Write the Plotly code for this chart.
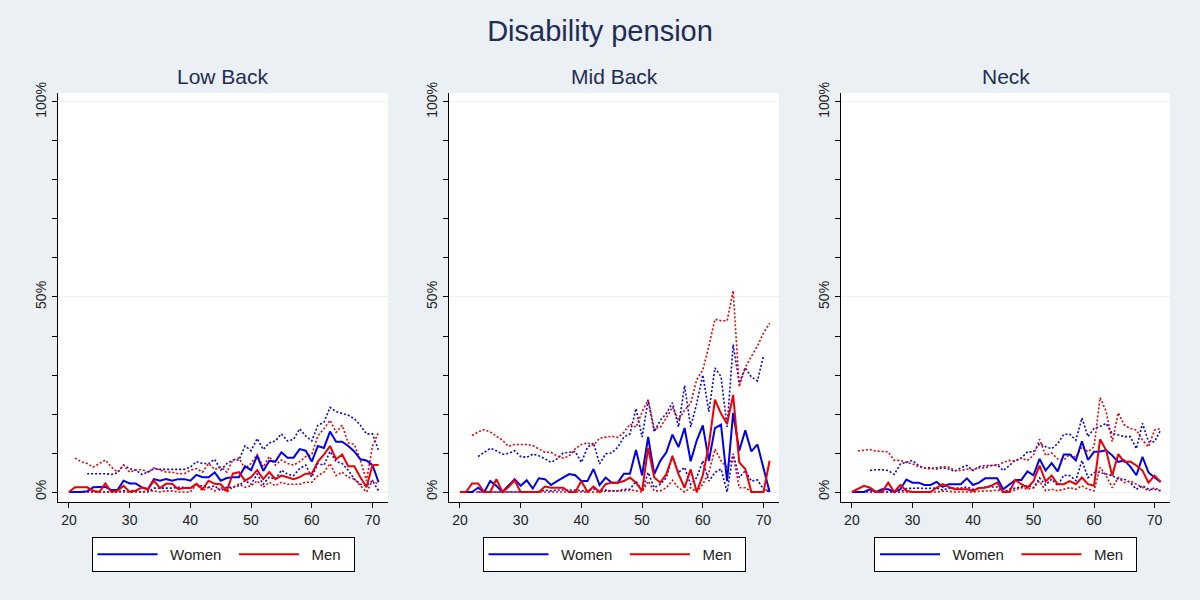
import plotly.graph_objects as go

N = None
ages = list(range(20, 72))

# ---------------- Low Back ----------------
low_women = [0, 0, 0, 0.2, 1.2, 1.3, 1.3, 0.5, 0.5, 2.9, 2.2, 2.2, 1.2, 0.7, 3.3, 2.9, 3.3, 2.9, 3.3, 3.3,
             2.9, 4.4, 3.8, 3.8, 5.0, 2.9, 3.6, 3.8, 3.8, 6.6, 5.6, 9.3, 5.4, 8.0, 7.8, 10.2, 8.8, 8.8, 11.0, 10.6,
             7.8, 11.8, 11.3, 15.5, 12.9, 12.9, 11.8, 10.4, 8.4, 8.1, 6.9, 2.5]
low_women_hi = [N, N, N, 4.7, 4.7, 4.7, 4.7, 4.5, 4.9, 6.9, 6.0, 5.6, 4.5, 5.1, 6.0, 5.8, 5.8, 5.8, 5.8, 5.8,
                6.4, 7.8, 7.3, 7.3, 8.4, 5.6, 7.3, 8.2, 8.2, 11.8, 10.6, 13.7, 10.9, 12.6, 13.1, 14.9, 13.1, 13.5, 16.2, 14.4,
                13.1, 17.1, 17.9, 21.7, 20.6, 20.1, 19.7, 18.8, 17.1, 14.9, 14.9, 10.6]
low_women_lo = [N, N, N, 0, 0, 0, 0, 0, 0, 0.3, 0.3, 0.3, 0, 0, 1.0, 1.0, 1.0, 1.0, 1.2, 1.2,
                1.0, 2.0, 1.5, 1.2, 1.6, 0.3, 1.2, 1.2, 1.6, 2.9, 2.0, 4.6, 2.0, 3.8, 3.3, 5.6, 4.6, 4.2, 6.0, 6.9,
                3.8, 7.3, 6.9, 10.4, 7.8, 7.3, 5.6, 3.3, 2.0, 1.6, 2.9, 0.3]
low_men = [0, 1.2, 1.2, 1.2, 0.3, 0, 2.2, 0, 0.3, 1.6, 0, 0.3, 1.2, 0.7, 2.9, 1.0, 2.1, 2.1, 0.7, 1.0,
           1.0, 2.1, 0.7, 2.9, 2.1, 2.0, 0.3, 4.7, 5.1, 2.9, 3.8, 5.6, 3.3, 5.1, 3.3, 4.2, 3.8, 3.3, 3.8, 4.7,
           4.7, 7.8, 9.6, 11.8, 8.4, 9.6, 6.6, 6.6, 3.8, 1.2, 6.9, 6.9]
low_men_hi = [N, 8.7, 7.8, 7.3, 6.4, 7.3, 8.2, 6.4, 5.1, 6.9, 5.1, 5.6, 5.8, 5.1, 6.2, 5.6, 5.1, 5.1, 4.7, 4.7,
              5.6, 6.0, 5.1, 7.3, 5.8, 6.4, 5.1, 8.2, 8.7, 6.0, 7.3, 9.6, 6.4, 9.1, 6.9, 8.2, 7.3, 6.9, 7.8, 9.1,
              9.6, 14.4, 16.2, 18.4, 15.3, 17.1, 12.6, 12.2, 8.2, 2.9, 11.8, 15.3]
low_men_lo = [N, 0, 0, 0, 0, 0, 0, 0, 0, 0, 0, 0, 0, 0.3, 0.3, 0, 0.3, 0.3, 0, 0,
              0, 2.0, 0.3, 1.2, 0.3, 1.2, 0, 1.2, 2.0, 1.2, 1.6, 2.9, 1.2, 2.5, 1.6, 2.5, 2.0, 2.0, 2.0, 2.5,
              2.5, 4.2, 5.1, 7.3, 4.2, 5.1, 3.8, 3.3, 1.6, 0, 2.9, 2.0]

# ---------------- Mid Back ----------------
mid_women = [0, 0, 0, 1.1, 0, 2.8, 1.6, 0, 1.6, 3.3, 1.6, 3.0, 0.9, 3.5, 3.3, 1.8, 2.8, 3.8, 4.6, 4.3,
             2.8, 2.8, 5.9, 1.8, 3.7, 2.4, 2.4, 4.7, 4.7, 10.8, 4.3, 14.1, 4.6, 8.0, 10.2, 14.7, 11.5, 16.4, 7.9, 13.2,
             17.1, 8.0, 16.4, 17.3, 2.8, 20.3, 10.6, 15.8, 10.4, 12.2, 6.3, 0]
mid_women_hi = [N, N, N, 9.1, 10.2, 11.2, 10.6, 9.7, 9.9, 10.6, 9.1, 8.9, 9.7, 9.3, 8.5, 7.6, 8.5, 10.0, 10.2, 10.4,
                7.6, 11.4, 12.6, 7.2, 9.8, 10.0, 11.5, 14.1, 14.9, 21.4, 14.1, 23.6, 15.4, 18.4, 20.1, 22.9, 16.7, 27.3, 16.7, 22.7,
                30.0, 20.6, 31.8, 29.6, 16.7, 37.8, 27.9, 31.8, 29.5, 28.5, 35.0, N]
mid_women_lo = [N, N, N, 0, 0, 0, 0, 0, 0, 0, 0, 0, 0, 0, 0.5, 0.3, 0.5, 0.5, 0.5, 0.5,
                0.3, 0.3, 0.8, 0.2, 0.5, 0.3, 0.3, 0.7, 0.7, 2.8, 0.3, 5.0, 1.1, 2.0, 3.7, 9.3, 5.0, 6.3, 2.0, 3.7,
                8.0, 2.8, 5.0, 5.9, 0, 9.8, 3.7, 5.5, 2.8, 3.1, 0.7, 0]
mid_men = [0, 0, 2.2, 2.2, 0, 0, 3.3, 0, 1.3, 3.0, 0, 0, 0, 0, 1.4, 1.1, 1.1, 1.1, 0, 0,
           2.8, 0, 1.4, 0, 2.0, 2.4, 2.4, 2.8, 3.7, 2.4, 0.3, 11.3, 3.7, 2.4, 4.6, 9.1, 4.6, 1.1, 5.8, 0,
           4.3, 12.0, 23.7, 20.1, 17.5, 24.9, 7.6, 5.9, 0, 0, 0, 8.0]
mid_men_hi = [N, N, 14.5, 15.4, 16.0, 15.4, 14.3, 13.3, 11.7, 12.2, 12.2, 12.2, 11.9, 11.1, 10.2, 10.2, 9.2, 8.7, 9.2, 11.1,
              12.2, 12.6, 12.0, 13.8, 14.0, 14.3, 14.0, 15.3, 17.4, 16.6, 20.5, 23.6, 16.2, 16.6, 19.0, 21.8, 18.4, 21.0, 22.7, 28.8,
              31.3, 37.4, 44.3, 43.9, 43.9, 51.6, 27.0, 32.0, 34.8, 37.4, 40.8, 43.3]
mid_men_lo = [N, N, 0, 0, 0, 0, 0, 0, 0, 0, 0, 0, 0, 0, 0, 0, 0, 0, 0, 0,
              0, 0, 0, 0, 0.2, 0.3, 0.3, 0.3, 0.5, 0.3, 0, 2.8, 0.3, 0.3, 1.1, 3.0, 1.1, 0, 1.1, 0,
              2.0, 5.0, 11.0, 8.0, 6.3, 9.3, 1.1, 1.1, 0, 0, 0, 1.0]

# ---------------- Neck ----------------
neck_women = [0, 0, 0, 0.7, 0, 0.7, 0.7, 0, 0.7, 3.2, 2.4, 2.4, 1.8, 1.8, 2.6, 1.3, 2.0, 2.0, 2.0, 3.5,
              1.8, 2.4, 3.5, 3.5, 3.5, 0.7, 2.0, 3.1, 3.1, 5.3, 4.3, 8.5, 5.5, 7.4, 5.3, 9.6, 9.6, 8.1, 13.0, 8.2,
              10.3, 10.4, 10.7, 9.4, 7.7, 8.1, 6.5, 4.3, 9.0, 5.0, 3.7, 2.6]
neck_women_hi = [N, N, N, 5.5, 5.7, 5.7, 5.5, 4.5, 7.2, 7.6, 8.1, 6.8, 6.2, 6.2, 5.9, 6.2, 5.9, 5.3, 6.2, 6.8,
                 5.5, 6.5, 6.8, 6.8, 7.0, 5.5, 6.8, 8.1, 8.7, 10.3, 10.3, 12.4, 11.6, 11.1, 12.4, 14.8, 14.8, 13.3, 19.0, 14.2,
                 16.3, 16.8, 17.6, 15.0, 14.6, 14.2, 14.2, 11.1, 17.6, 12.9, 12.9, 15.9]
neck_women_lo = [N, N, N, 0, 0, 0, 0, 0, 0, 0.9, 1.0, 1.0, 0.9, 0.9, 1.0, 0.5, 1.0, 1.0, 1.0, 1.3,
                 0.7, 1.0, 1.3, 1.3, 1.3, 0, 0.7, 1.0, 1.3, 1.6, 1.1, 3.6, 1.8, 3.3, 1.6, 4.3, 4.2, 2.9, 8.1, 3.7,
                 5.0, 5.0, 4.6, 4.2, 3.3, 3.3, 2.4, 0.7, 1.6, 0.7, 0.7, 0.3]
neck_men = [0, 0.7, 1.6, 1.1, 0, 0, 2.4, 0, 1.8, 0.3, 0, 0, 0, 0, 1.1, 2.0, 1.3, 0.7, 0.7, 0.7,
            0.3, 1.0, 1.1, 1.6, 2.4, 0, 0, 3.1, 2.0, 1.1, 2.8, 6.8, 2.7, 4.2, 2.0, 2.0, 2.8, 2.0, 3.7, 2.0,
            1.6, 13.5, 10.7, 4.2, 9.7, 7.7, 7.8, 6.8, 5.5, 2.4, 4.2, 2.6]
neck_men_hi = [N, 10.5, 10.7, 10.9, 10.5, 10.4, 10.3, 8.1, 8.1, 7.6, 7.2, 6.5, 6.2, 5.9, 6.2, 6.5, 6.4, 5.5, 5.5, 5.9,
               5.7, 6.2, 6.2, 6.8, 6.8, 7.6, 8.1, 7.9, 8.7, 8.1, 9.4, 13.5, 9.4, 10.0, 8.5, 8.2, 9.7, 8.9, 11.6, 10.3,
               11.6, 24.2, 20.7, 12.9, 20.3, 17.2, 16.3, 15.9, 13.3, 11.6, 15.9, 16.3]
neck_men_lo = [N, 0, 0, 0, 0, 0, 0, 0, 0, 0, 0, 0, 0, 0, 0, 0.2, 0.2, 0, 0, 0,
               0, 0.2, 0.2, 0.3, 0.5, 0, 0, 0.5, 1.1, 0.7, 1.1, 2.8, 0.3, 0.7, 0.3, 0.7, 1.1, 0.7, 1.6, 0.7,
               0.3, 6.3, 4.2, 1.1, 3.7, 2.4, 2.8, 2.0, 1.1, 0.3, 1.1, 0.3]

panel_titles = ["Low Back", "Mid Back", "Neck"]
panels = [
    (low_women, low_women_hi, low_women_lo, low_men, low_men_hi, low_men_lo),
    (mid_women, mid_women_hi, mid_women_lo, mid_men, mid_men_hi, mid_men_lo),
    (neck_women, neck_women_hi, neck_women_lo, neck_men, neck_men_hi, neck_men_lo),
]
x_ticks = [20, 30, 40, 50, 60, 70]
y_ticks = [0, 50, 100]
y_ticktext = ["0%", "50%", "100%"]

BLUE = "#0000ee"
RED = "#ee0000"
FONT = "Liberation Sans, Arial, sans-serif"
W, H = 1200, 600
px_x = [(58, 388), (449, 779), (841, 1170)]
y_top, y_bot = 93, 502

fig = go.Figure()
for i, (w, wh, wl, m, mh, ml) in enumerate(panels):
    sfx = "" if i == 0 else str(i + 1)
    xa, ya = "x" + sfx, "y" + sfx
    leg = "legend" + sfx
    for vals, col in [(wh, BLUE), (wl, BLUE), (mh, RED), (ml, RED)]:
        fig.add_trace(go.Scatter(x=ages, y=vals, mode="lines", xaxis=xa, yaxis=ya,
                                 line=dict(color=col, width=1.6, dash="2px,2px"),
                                 showlegend=False, hoverinfo="skip", connectgaps=False))
    fig.add_trace(go.Scatter(x=ages, y=w, mode="lines", name="\u2002Women\u2002", xaxis=xa, yaxis=ya,
                             line=dict(color=BLUE, width=2), legend=leg))
    fig.add_trace(go.Scatter(x=ages, y=m, mode="lines", name="\u2002Men\u2002", xaxis=xa, yaxis=ya,
                             line=dict(color=RED, width=2), legend=leg))

    x0, x1 = px_x[i]
    dom_x = [x0 / W, x1 / W]
    dom_y = [1 - y_bot / H, 1 - y_top / H]
    axis_font = dict(family=FONT, size=14, color="#222222")
    fig.layout["xaxis" + sfx] = dict(
        domain=dom_x, anchor=ya, range=[18.2, 72.55], tickvals=x_ticks, automargin=False,
        ticks="outside", ticklen=5, tickcolor="black", showline=True, linecolor="black",
        linewidth=1, showgrid=False, zeroline=False, tickfont=axis_font)
    fig.layout["yaxis" + sfx] = dict(
        domain=dom_y, anchor=xa, range=[-2.56, 102.3], tickvals=y_ticks, ticktext=y_ticktext,
        tickangle=-90, ticks="outside", ticklen=5, tickcolor="black", showline=True,
        linecolor="black", linewidth=1, showgrid=True, gridcolor="#eef1f3", gridwidth=1,
        zeroline=False, tickfont=axis_font, automargin=False,
        minor=dict(dtick=10, ticks="outside", ticklen=5, tickcolor="black", showgrid=False))
    fig.layout[leg] = dict(
        x=(x0 + x1) / 2 / W, xanchor="center", y=1 - 537 / H, yanchor="top",
        orientation="h", bgcolor="white", bordercolor="black", borderwidth=1,
        font=dict(family=FONT, size=15, color="#222222"),
        itemwidth=60, tracegroupgap=0)
    fig.add_annotation(text=panel_titles[i], x=(x0 + x1) / 2 / W, y=1 - 77 / H,
                       xref="paper", yref="paper", xanchor="center", yanchor="middle",
                       showarrow=False, font=dict(family=FONT, size=21, color="#1f2d55"))

fig.update_layout(
    width=W, height=H, margin=dict(l=0, r=0, t=0, b=0, autoexpand=False),
    paper_bgcolor="#eaf0f3", plot_bgcolor="white",
    title=dict(text="Disability pension", x=0.5, xanchor="center", y=1 - 31 / H, yanchor="middle",
               font=dict(family=FONT, size=29, color="#1f2d55")),
)
fig.write_html("out.html", config={"displayModeBar": False},
               post_script="document.body.style.margin='0';")
